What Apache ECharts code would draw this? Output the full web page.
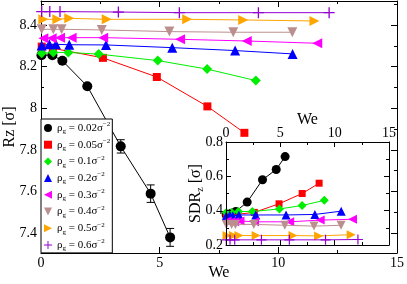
<!DOCTYPE html>
<html><head><meta charset="utf-8">
<script src="https://cdn.jsdelivr.net/npm/echarts@6/dist/echarts.min.js"></script>
<style>html,body{margin:0;padding:0;background:#fff}#c{width:407px;height:284px}</style>
</head><body><div id="c"></div>
<script>
// ---- data ----
const densities = ['0.02','0.05','0.1','0.2','0.3','0.4','0.5','0.6'];

const we002  = [0.02, 0.48, 0.9, 1.95, 3.36, 4.62, 5.44];
const rz002  = [8.255, 8.255, 8.228, 8.106, 7.817, 7.59, 7.38];
const err002 = [0, 0, 0, 0.006, 0.032, 0.042, 0.043];
const sdr002 = [0.375, 0.385, 0.395, 0.45, 0.58, 0.64, 0.715];

const we005  = [0.03, 0.5, 2.61, 4.88, 7.01, 8.57];
const rz005  = [8.296, 8.288, 8.242, 8.150, 8.009, 7.882];
const sdr005 = [0.37, 0.375, 0.39, 0.44, 0.50, 0.56];

const we01  = [0.03, 0.52, 1.15, 2.43, 4.92, 7.0, 9.05];
const rz01  = [8.264, 8.268, 8.268, 8.26, 8.229, 8.188, 8.133];
const sdr01 = [0.39, 0.39, 0.395, 0.395, 0.41, 0.43, 0.46];

const we02  = [0.03, 0.35, 0.63, 1.19, 2.74, 5.53, 8.18, 10.6];
const rz02  = [8.301, 8.307, 8.307, 8.305, 8.304, 8.291, 8.277, 8.261];
const sdr02 = [0.37, 0.375, 0.37, 0.375, 0.375, 0.375, 0.378, 0.397];

const we03  = [0.1, 0.45, 0.8, 1.29, 2.62, 5.86, 8.67, 11.64];
const rz03  = [8.336, 8.336, 8.339, 8.339, 8.339, 8.331, 8.323, 8.312];
const sdr03 = [0.34, 0.335, 0.335, 0.34, 0.335, 0.335, 0.345, 0.35];

const we04  = [0.03, 0.52, 0.87, 2.56, 5.41, 8.1, 10.59];
const rz04  = [8.379, 8.379, 8.379, 8.376, 8.368, 8.365, 8.365];
const sdr04 = [0.32, 0.32, 0.32, 0.32, 0.315, 0.31, 0.315];

const we05  = [0.1, 0.69, 1.19, 2.77, 6.16, 8.52, 11.52];
const rz05  = [8.427, 8.427, 8.432, 8.427, 8.427, 8.424, 8.419];
const sdr05 = [0.255, 0.255, 0.255, 0.255, 0.255, 0.253, 0.26];

const we06  = [0.03, 0.37, 0.8, 3.26, 5.83, 9.16, 12.14];
const rz06  = [8.464, 8.464, 8.464, 8.462, 8.459, 8.459, 8.459];
const sdr06 = [0.23, 0.23, 0.23, 0.23, 0.23, 0.23, 0.232];

const weTicks = [0, 5, 10, 15];
const rzTicks = [7.4, 7.6, 7.8, 8, 8.2, 8.4];
const sdrTicks = [0.2, 0.4, 0.6, 0.8];

// ---- styles ----
const WE = [we002, we005, we01, we02, we03, we04, we05, we06];
const RZ = [rz002, rz005, rz01, rz02, rz03, rz04, rz05, rz06];
const SDR = [sdr002, sdr005, sdr01, sdr02, sdr03, sdr04, sdr05, sdr06];
const COLORS = ['#000000','#ff0000','#00ee00','#0000ff','#ff00ff','#bc8f8f','#ffa500','#9400d3'];
const PLUS = 'path://M4.4,0L5.6,0L5.6,4.4L10,4.4L10,5.6L5.6,5.6L5.6,10L4.4,10L4.4,5.6L0,5.6L0,4.4L4.4,4.4Z';
const SYMS = ['circle','rect','diamond','triangle','path://M0,5L10,0L10,10Z','path://M0,0L10,0L5,10Z','path://M10,5L0,0L0,10Z', PLUS];
const SIZE_MAIN = [10, 8, 10, 10, 10, 10, 10, 11];
const SIZE_INSET = [9, 7, 9, 9, 9, 9, 9, 10];
const FONT = 'Liberation Serif';

const series = [];
densities.forEach((d, i) => {
  series.push({
    name: d, type: 'line', xAxisIndex: 0, yAxisIndex: 0,
    data: WE[i].map((w, k) => [w, RZ[i][k]]),
    symbol: SYMS[i], symbolSize: SIZE_MAIN[i],
    lineStyle: {width: 1, color: COLORS[i]}, itemStyle: {color: COLORS[i]},
    z: 3 + i, animation: false, silent: true
  });
});
series.push({
  name: 'err', type: 'custom', xAxisIndex: 0, yAxisIndex: 0,
  data: we002.map((w, k) => [w, rz002[k], err002[k]]).filter(r => r[2] > 0),
  encode: {x: 0, y: 1},
  renderItem: function (params, api) {
    const x = api.value(0), y = api.value(1), e = api.value(2);
    const t = api.coord([x, y + e]), b = api.coord([x, y - e]);
    const c = 4, st = {stroke: '#000', lineWidth: 1};
    return {type: 'group', children: [
      {type: 'line', shape: {x1: t[0], y1: t[1], x2: b[0], y2: b[1]}, style: st},
      {type: 'line', shape: {x1: t[0]-c, y1: t[1], x2: t[0]+c, y2: t[1]}, style: st},
      {type: 'line', shape: {x1: b[0]-c, y1: b[1], x2: b[0]+c, y2: b[1]}, style: st}
    ]};
  }, z: 2, animation: false, silent: true
});
densities.forEach((d, i) => {
  series.push({
    name: d, type: 'line', xAxisIndex: 2, yAxisIndex: 2,
    data: WE[i].map((w, k) => [w, SDR[i][k]]),
    symbol: SYMS[i], symbolSize: SIZE_INSET[i],
    lineStyle: {width: 1, color: COLORS[i]}, itemStyle: {color: COLORS[i]},
    z: 30 + i, animation: false, silent: true
  });
});

const black = {color: '#000'};
function fmtIn(list) {
  return v => list.some(t => Math.abs(t - v) < 1e-6) ? String(+v.toFixed(2)) : '';
}
function axisBase(extra) {
  return Object.assign({
    type: 'value', nameMoveOverlap: false,
    axisLine: {show: true, onZero: false, lineStyle: {color: '#000', width: 1}},
    axisTick: {show: true, inside: true, length: 6, lineStyle: {color: '#000', width: 1}},
    minorTick: {show: true, splitNumber: 2, length: 3, lineStyle: {color: '#000', width: 1}},
    splitLine: {show: false},
    axisLabel: {show: false, fontFamily: FONT, fontSize: 14, color: '#000'}
  }, extra);
}

const option = {
  backgroundColor: '#fff',
  animation: false,
  grid: [
    {left: 41, top: 1, right: 10, bottom: 31, containLabel: false, outerBoundsMode: 'none'},
    {left: 226, top: 142, right: 18, bottom: 39, containLabel: false, outerBoundsMode: 'none',
     show: true, backgroundColor: '#fff', borderWidth: 0, z: 10}
  ],
  xAxis: [
    axisBase({gridIndex: 0, min: 0, max: 15, interval: 5, position: 'bottom',
      axisLabel: {show: true, fontFamily: FONT, fontSize: 14, color: '#000', margin: 3, formatter: fmtIn(weTicks)},
      name: 'We', nameLocation: 'middle', nameGap: 12,
      nameTextStyle: {fontFamily: FONT, fontSize: 16, color: '#000'}}),
    axisBase({gridIndex: 0, min: 0, max: 15, interval: 5, position: 'top'}),
    axisBase({gridIndex: 1, min: 0, max: 15, interval: 5, position: 'top', z: 40,
      axisTick: {show: true, inside: true, length: 5, lineStyle: black},
      axisLabel: {show: true, fontFamily: FONT, fontSize: 14, color: '#000', margin: 2, formatter: fmtIn(weTicks)},
      name: 'We', nameLocation: 'middle', nameGap: 14,
      nameTextStyle: {fontFamily: FONT, fontSize: 16, color: '#000'}}),
    axisBase({gridIndex: 1, min: 0, max: 15, interval: 5, position: 'bottom', z: 40,
      axisTick: {show: true, inside: true, length: 5, lineStyle: black}})
  ],
  yAxis: [
    axisBase({gridIndex: 0, min: 7.305, max: 8.515, splitNumber: 6, position: 'left',
      axisLabel: {show: true, fontFamily: FONT, fontSize: 14, color: '#000', margin: 4,
        showMinLabel: false, showMaxLabel: false, formatter: fmtIn(rzTicks)},
      name: 'Rz [σ]', nameLocation: 'middle', nameGap: 23, nameRotate: 90,
      nameTextStyle: {fontFamily: FONT, fontSize: 16, color: '#000'}}),
    axisBase({gridIndex: 0, min: 7.305, max: 8.515, splitNumber: 6, position: 'right'}),
    axisBase({gridIndex: 1, min: 0.2, max: 0.8, interval: 0.2, position: 'left', z: 40,
      axisTick: {show: true, inside: true, length: 5, lineStyle: black},
      axisLabel: {show: true, fontFamily: FONT, fontSize: 14, color: '#000', margin: 3, formatter: fmtIn(sdrTicks)},
      name: '{t|SDR}{s|z}{t| [σ]}', nameLocation: 'middle', nameGap: 21, nameRotate: 90,
      nameTextStyle: {fontFamily: FONT, fontSize: 16, color: '#000', rich: {
        t: {fontFamily: FONT, fontSize: 16, color: '#000', lineHeight: 18},
        s: {fontFamily: FONT, fontSize: 10, color: '#000', lineHeight: 10, verticalAlign: 'bottom'}
      }}}),
    axisBase({gridIndex: 1, min: 0.2, max: 0.8, interval: 0.2, position: 'right', z: 40,
      axisTick: {show: true, inside: true, length: 5, lineStyle: black}})
  ],
  legend: {
    show: true, orient: 'vertical', left: 41, top: 119, z: 50,
    backgroundColor: '#fff', borderColor: '#000', borderWidth: 1, borderRadius: 0,
    padding: [2, 2, 1, 3], itemGap: 2.7, itemWidth: 8, itemHeight: 8,
    selectedMode: false,
    data: densities.map((d, i) => ({name: d, icon: SYMS[i]})),
    formatter: name => `{t|ρ}{s|g}{t| = ${name}σ}{p|−2}`,
    textStyle: {fontFamily: FONT, fontSize: 11, color: '#000', rich: {
      t: {fontFamily: FONT, fontSize: 11, color: '#000', lineHeight: 14},
      s: {fontFamily: FONT, fontSize: 7, color: '#000', lineHeight: 8, verticalAlign: 'bottom'},
      p: {fontFamily: FONT, fontSize: 7, color: '#000', lineHeight: 8, verticalAlign: 'top'}
    }}
  },
  series: series
};
const chart = echarts.init(document.getElementById('c'), null, {renderer: 'canvas'});
chart.setOption(option);
</script></body></html>
